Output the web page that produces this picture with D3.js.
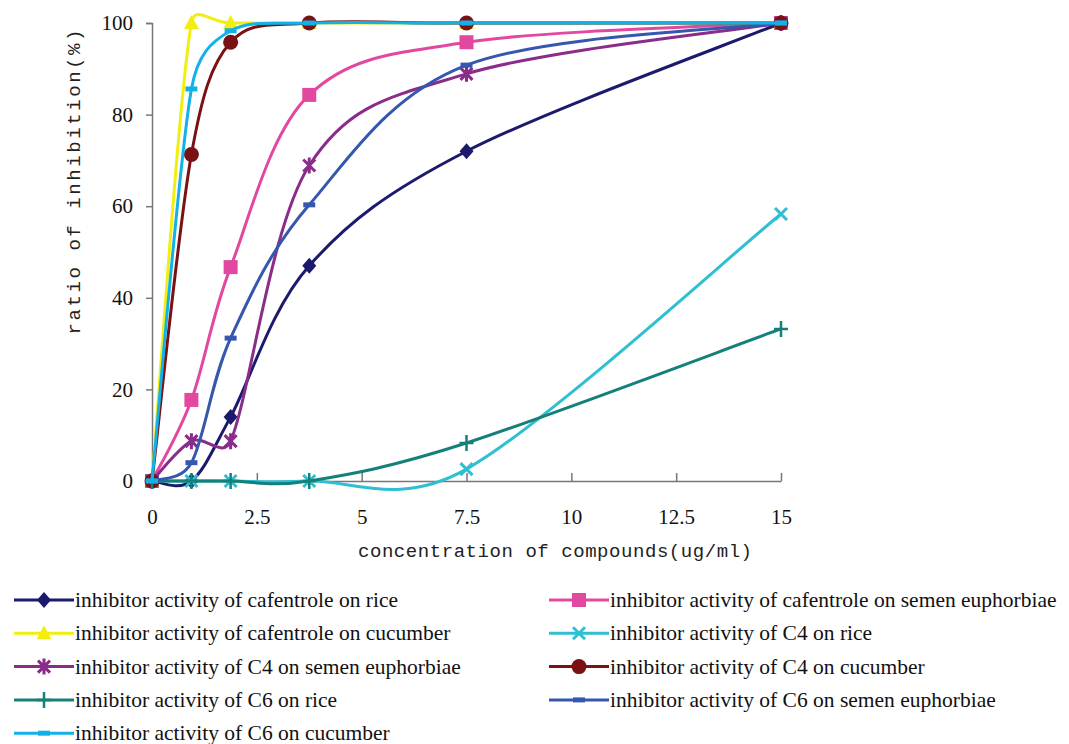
<!DOCTYPE html>
<html>
<head>
<meta charset="utf-8">
<script src="https://cdn.jsdelivr.net/npm/d3@7"></script>
<style>
  body { margin: 0; background: #fff; }
  svg { display: block; }
</style>
</head>
<body>
<svg id="chart"></svg>
<script>
// concentrations (ug/ml)
const concentrations = [0, 0.94, 1.875, 3.75, 7.5, 15];
const xTicks = [0, 2.5, 5, 7.5, 10, 12.5, 15];
const yTicks = [0, 20, 40, 60, 80, 100];

const seriesNames = [
  "inhibitor activity of cafentrole on rice",
  "inhibitor activity of cafentrole on semen euphorbiae",
  "inhibitor activity of cafentrole on cucumber",
  "inhibitor activity of C4 on rice",
  "inhibitor activity of C4 on semen euphorbiae",
  "inhibitor activity of C4 on cucumber",
  "inhibitor activity of C6 on rice",
  "inhibitor activity of C6 on semen euphorbiae",
  "inhibitor activity of C6 on cucumber"
];

const cafentroleRice = [0, 0, 14, 47, 72, 100];
const cafentroleSemen = [0, 17.7, 46.7, 84.3, 95.8, 100];
const cafentroleCucumber = [0, 100, 100, 100, 100, 100];
const c4Rice = [0, 0, 0, 0, 2.6, 58.3];
const c4Semen = [0, 8.7, 8.7, 68.9, 88.9, 100];
const c4Cucumber = [0, 71.3, 95.8, 100, 100, 100];
const c6Rice = [0, 0, 0, 0, 8.3, 33.2];
const c6Semen = [0, 4, 31.2, 60.3, 90.8, 100];
const c6Cucumber = [0, 85.6, 98.3, 100, 100, 100];

const seriesValues = [cafentroleRice, cafentroleSemen, cafentroleCucumber,
  c4Rice, c4Semen, c4Cucumber, c6Rice, c6Semen, c6Cucumber];

const colors = ["#1c1a6c", "#e2489f", "#f2ee10", "#2fbfd2", "#8a2c8a",
  "#7a1214", "#15807a", "#3557ae", "#12b2e8"];
const markers = ["diamond", "square", "triangle", "x", "asterisk",
  "circle", "plus", "dash", "dash"];

const width = 1069, height = 744;
const svg = d3.select("#chart").attr("width", width).attr("height", height);

const x = d3.scaleLinear().domain([0, 15]).range([152, 781]);
const y = d3.scaleLinear().domain([0, 100]).range([481, 23]);

const serif = "'Liberation Serif', 'Times New Roman', serif";
const mono = "'Liberation Mono', 'DejaVu Sans Mono', monospace";

// y axis
const yAxis = svg.append("g")
  .attr("transform", `translate(${x(0)},0)`)
  .call(d3.axisLeft(y).tickValues(yTicks).tickSize(6).tickPadding(13).tickFormat(d3.format("d")));
yAxis.select(".domain").attr("stroke", "#777").attr("stroke-width", 1.5);
yAxis.selectAll(".tick line").attr("stroke", "#777").attr("stroke-width", 1.5);
yAxis.selectAll(".tick text").attr("font-family", serif).attr("font-size", 21).attr("fill", "#111");

// x axis
const xAxis = svg.append("g")
  .attr("transform", `translate(0,${y(0)})`)
  .call(d3.axisBottom(x).tickValues(xTicks).tickSizeInner(-8).tickSizeOuter(0).tickPadding(28)
    .tickFormat(d => d));
xAxis.select(".domain").attr("stroke", "#777").attr("stroke-width", 1.5);
xAxis.selectAll(".tick line").attr("stroke", "#777").attr("stroke-width", 1.5);
xAxis.selectAll(".tick text").attr("font-family", serif).attr("font-size", 21).attr("fill", "#111");

// axis titles
svg.append("text")
  .attr("transform", "translate(80,182) rotate(-90)")
  .attr("text-anchor", "middle")
  .attr("font-family", mono).attr("font-size", 19).attr("fill", "#222")
  .attr("textLength", 305).attr("lengthAdjust", "spacing")
  .text("ratio of inhibition(%)");

svg.append("text")
  .attr("x", 555).attr("y", 557)
  .attr("text-anchor", "middle")
  .attr("font-family", mono).attr("font-size", 19).attr("fill", "#222")
  .attr("textLength", 394).attr("lengthAdjust", "spacing")
  .text("concentration of compounds(ug/ml)");

function drawMarker(g, type, color) {
  if (type === "diamond") {
    g.append("path").attr("d", "M0,-8L7,0L0,8L-7,0Z").attr("fill", color);
  } else if (type === "square") {
    g.append("rect").attr("x", -7).attr("y", -7).attr("width", 14).attr("height", 14).attr("fill", color);
  } else if (type === "triangle") {
    g.append("path").attr("d", "M0,-8L7.5,6L-7.5,6Z").attr("fill", color);
  } else if (type === "circle") {
    g.append("circle").attr("r", 7.5).attr("fill", color);
  } else if (type === "x") {
    g.append("path").attr("d", "M-6,-6L6,6M-6,6L6,-6").attr("stroke", color).attr("stroke-width", 3);
  } else if (type === "asterisk") {
    g.append("path").attr("d", "M-6,-6L6,6M-6,6L6,-6M0,-8L0,8").attr("stroke", color).attr("stroke-width", 3);
  } else if (type === "plus") {
    g.append("path").attr("d", "M-7,0L7,0M0,-8L0,8").attr("stroke", color).attr("stroke-width", 2.5);
  } else if (type === "dash") {
    g.append("rect").attr("x", -6).attr("y", -2.5).attr("width", 12).attr("height", 5).attr("fill", color);
  }
}

// spreadsheet-style smoothing: bezier with 1/6 tangents, capped at half a segment
function smoothPath(pts) {
  const p = d3.path();
  const dist = (a, b) => Math.hypot(b[0] - a[0], b[1] - a[1]);
  p.moveTo(pts[0][0], pts[0][1]);
  for (let i = 0; i < pts.length - 1; i++) {
    const p0 = pts[Math.max(i - 1, 0)], p1 = pts[i], p2 = pts[i + 1];
    const p3 = pts[Math.min(i + 2, pts.length - 1)];
    const d12 = dist(p1, p2), d02 = dist(p0, p2), d13 = dist(p1, p3);
    let f = 1 / 6, g = 1 / 6;
    if (d02 / 6 > d12 / 2) f = (d12 / 2) / d02;
    if (d13 / 6 > d12 / 2) g = (d12 / 2) / d13;
    p.bezierCurveTo(
      p1[0] + (p2[0] - p0[0]) * f, p1[1] + (p2[1] - p0[1]) * f,
      p2[0] - (p3[0] - p1[0]) * g, p2[1] - (p3[1] - p1[1]) * g,
      p2[0], p2[1]);
  }
  return p.toString();
}

const plot = svg.append("g");
seriesValues.forEach((vals, s) => {
  const g = plot.append("g");
  const pts = vals.map((v, i) => [x(concentrations[i]), y(v)]);
  g.append("path")
    .attr("d", smoothPath(pts))
    .attr("fill", "none")
    .attr("stroke", colors[s])
    .attr("stroke-width", 3);
  pts.forEach(pt => {
    const m = g.append("g").attr("transform", `translate(${pt[0]},${pt[1]})`);
    drawMarker(m, markers[s], colors[s]);
  });
});

// legend
const legend = svg.append("g");
seriesNames.forEach((name, s) => {
  const col = s % 2, row = Math.floor(s / 2);
  const lx = col === 0 ? 14 : 549;
  const ly = 600 + row * 33.3;
  const g = legend.append("g").attr("transform", `translate(${lx},${ly})`);
  g.append("line").attr("x1", 0).attr("x2", 60).attr("y1", 0).attr("y2", 0)
    .attr("stroke", colors[s]).attr("stroke-width", 3);
  const m = g.append("g").attr("transform", "translate(30,0)");
  drawMarker(m, markers[s], colors[s]);
  g.append("text").attr("x", 61).attr("y", 7)
    .attr("font-family", serif).attr("font-size", 21.5).attr("fill", "#111")
    .text(name);
});
</script>
</body>
</html>
